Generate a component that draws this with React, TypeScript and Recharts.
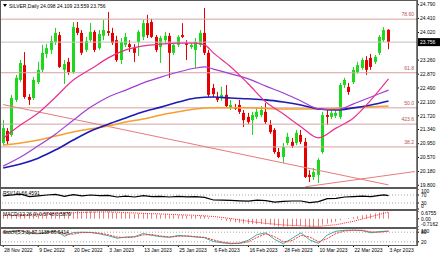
import React from "react";
import { Bar, ComposedChart, Line, ReferenceLine, XAxis, YAxis } from "recharts";

const FONT = "'Liberation Sans', Arial, sans-serif";
const UP = "#1ed81e";
const DOWN = "#e60000";

const dateIdx = [0, 8, 16, 24, 32, 40, 48, 56, 64, 72, 80, 88];
const dateLabels = [
	"28 Nov 2022", "9 Dec 2022", "20 Dec 2022", "3 Jan 2023", "13 Jan 2023", "25 Jan 2023",
	"6 Feb 2023", "16 Feb 2023", "28 Feb 2023", "10 Mar 2023", "22 Mar 2023", "3 Apr 2023",
];

const opens = [
	20.97, 21.3, 21.19, 22.16, 22.71, 23.12, 22.24, 22.21, 22.65, 22.99,
	23.43, 23.54, 23.76, 23.95, 22.99, 23.21, 22.93, 24.15, 24.01, 23.54,
	23.81, 24.04, 23.59, 23.93, 24.06, 24.01, 23.81, 23.26, 23.68, 23.7,
	23.59, 23.76, 23.9, 24.28, 24.31, 23.9, 23.62, 23.81, 23.93, 23.46,
	23.68, 23.95, 23.73, 23.62, 23.54, 23.68, 24.01, 23.46, 22.49, 22.24,
	22.21, 22.3, 21.94, 21.96, 22.02, 21.8, 21.69, 21.6, 21.69, 21.74,
	21.83, 21.47, 21.33, 20.72, 20.58, 20.97, 21.0, 20.97, 21.19, 21.0,
	20.09, 20.03, 20.09, 20.72, 21.74, 21.69, 21.72, 21.69, 22.57, 22.52,
	22.65, 22.93, 23.04, 23.26, 23.32, 23.21, 23.46, 23.81, 24.098,
];
const highs = [
	21.6, 21.38, 22.3, 22.85, 23.26, 23.48, 22.32, 22.79, 23.21, 23.68,
	23.7, 23.93, 24.15, 24.04, 23.26, 23.32, 24.31, 24.31, 24.09, 23.9,
	24.28, 24.09, 24.09, 24.37, 24.59, 24.15, 23.93, 23.87, 24.01, 23.81,
	23.7, 24.09, 24.37, 24.51, 24.4, 23.95, 23.93, 24.04, 24.01, 23.7,
	23.95, 24.28, 23.81, 23.73, 23.87, 24.09, 24.7, 23.54, 22.6, 22.38,
	22.52, 22.57, 22.16, 22.05, 22.16, 21.88, 21.8, 21.83, 21.94, 21.99,
	22.07, 21.6, 21.38, 20.83, 20.97, 21.25, 21.11, 21.33, 21.33, 21.11,
	20.22, 20.28, 20.55, 21.83, 21.94, 21.94, 21.88, 22.63, 22.77, 22.63,
	23.07, 23.21, 23.32, 23.37, 23.43, 23.4, 23.95, 24.17, 24.109,
];
const lows = [
	20.89, 20.91, 21.14, 22.1, 22.65, 22.19, 22.02, 22.16, 22.6, 22.93,
	23.32, 23.43, 23.68, 23.04, 22.6, 22.85, 22.88, 23.95, 23.4, 23.48,
	23.76, 23.48, 23.54, 23.81, 23.93, 23.68, 23.21, 23.15, 23.62, 23.48,
	23.21, 23.37, 23.81, 23.87, 23.87, 23.48, 23.18, 23.7, 22.77, 23.4,
	23.62, 23.87, 23.26, 23.57, 23.04, 23.62, 23.4, 22.24, 22.24, 22.1,
	22.13, 21.94, 21.88, 21.88, 21.77, 21.41, 21.49, 21.19, 21.63, 21.69,
	21.49, 21.22, 20.67, 20.55, 20.42, 20.91, 20.83, 20.91, 20.94, 20.0,
	19.89, 19.95, 19.86, 20.67, 21.47, 21.63, 21.66, 21.63, 22.49, 22.3,
	22.6, 22.88, 22.99, 22.85, 22.99, 23.15, 23.4, 23.76, 23.559,
];
const closes = [
	21.38, 21.02, 22.21, 22.77, 23.18, 22.24, 22.16, 22.71, 22.99, 23.46,
	23.59, 23.79, 24.01, 23.07, 23.15, 22.93, 24.17, 24.01, 23.46, 23.79,
	24.04, 23.54, 23.98, 24.09, 24.01, 23.73, 23.26, 23.76, 23.9, 23.62,
	23.46, 24.04, 24.28, 23.95, 23.9, 23.54, 23.87, 23.93, 23.46, 23.68,
	23.9, 23.9, 23.68, 23.68, 23.76, 24.01, 23.46, 22.3, 22.32, 22.16,
	22.3, 21.99, 22.02, 21.91, 21.83, 21.6, 21.55, 21.74, 21.83, 21.88,
	21.55, 21.27, 20.72, 20.58, 20.86, 21.14, 20.89, 21.25, 21.0, 20.03,
	20.03, 20.17, 20.5, 21.74, 21.69, 21.8, 21.8, 22.57, 22.71, 22.38,
	22.99, 23.12, 23.26, 22.99, 23.07, 23.35, 23.9, 24.09, 23.756,
];

// moving averages: [bar index, price]
const maFast: [number, number][] = [
	[0, 21.1], [4, 21.47], [8, 21.8], [12, 22.24], [16, 22.71], [20, 23.01], [24, 23.32],
	[28, 23.54], [32, 23.65], [36, 23.7], [40, 23.73], [44, 23.73], [46, 23.68], [48, 23.46],
	[52, 23.07], [56, 22.6], [60, 22.1], [64, 21.77], [68, 21.42], [72, 21.11], [76, 21.38],
	[80, 21.66], [84, 22.16], [88, 22.74],
];
const maMid: [number, number][] = [
	[0, 20.33], [4, 20.58], [8, 20.89], [12, 21.22], [16, 21.6], [20, 21.96], [24, 22.24],
	[28, 22.43], [32, 22.63], [36, 22.79], [40, 22.93], [44, 23.04], [46, 23.07], [48, 23.01],
	[52, 22.88], [56, 22.74], [60, 22.54], [64, 22.35], [68, 22.13], [72, 21.91], [76, 21.88],
	[80, 22.05], [84, 22.24], [88, 22.43],
];
const maSlow: [number, number][] = [
	[0, 20.28], [4, 20.39], [8, 20.55], [12, 20.78], [16, 21.05], [20, 21.3], [24, 21.49],
	[28, 21.66], [32, 21.83], [36, 21.96], [40, 22.1], [44, 22.21], [48, 22.24], [52, 22.21],
	[56, 22.19], [60, 22.16], [64, 22.1], [68, 22.02], [72, 21.91], [76, 21.88], [80, 21.94],
	[84, 22.02], [88, 22.13],
];
const maLong: [number, number][] = [
	[0, 20.91], [4, 20.97], [8, 21.05], [12, 21.16], [16, 21.27], [20, 21.36], [24, 21.44],
	[28, 21.55], [32, 21.63], [36, 21.74], [40, 21.83], [44, 21.91], [48, 21.94], [56, 21.94],
	[64, 21.91], [72, 21.91], [80, 21.94], [88, 21.99],
];
const trendDown: [number, number][] = [[0, 22.03], [88, 19.81]];
const trendUp: [number, number][] = [[69, 19.76], [94, 20.18]];

const fibLabels = ["78.60", "61.8", "50.0", "423.6", "38.2"];
const fibValues = [24.39, 22.91, 21.94, 21.49, 20.86];

const priceTicks = [24.79, 24.41, 24.02, 23.26, 22.87, 22.49, 22.1, 21.72, 21.34, 20.95, 20.57, 20.18, 19.8];

const rsiPts: [number, number][] = [
	[0, 66], [2, 70], [4, 74], [6, 62], [8, 66], [10, 70], [12, 73], [14, 63], [16, 72], [18, 66],
	[20, 70], [22, 67], [24, 68], [26, 60], [28, 64], [30, 60], [32, 67], [34, 62], [36, 63], [38, 60],
	[40, 63], [42, 61], [44, 62], [46, 58], [48, 45], [50, 44], [52, 43], [54, 41], [56, 39], [58, 44],
	[60, 42], [62, 34], [64, 38], [66, 40], [68, 40], [70, 32], [72, 37], [74, 52], [76, 53], [78, 60],
	[80, 62], [82, 64], [84, 62], [86, 68], [87, 71], [88, 66.46],
];
const rsiTicks = [100, 70, 30, 0];

const macdMain = [
	0.3, 0.31, 0.34, 0.38, 0.43, 0.42, 0.4, 0.41, 0.43, 0.47,
	0.5, 0.53, 0.58, 0.55, 0.52, 0.5, 0.6, 0.6755, 0.63, 0.62,
	0.64, 0.6, 0.6, 0.62, 0.61, 0.57, 0.5, 0.49, 0.49, 0.46,
	0.42, 0.44, 0.48, 0.45, 0.42, 0.37, 0.37, 0.37, 0.32, 0.31,
	0.31, 0.31, 0.28, 0.26, 0.25, 0.27, 0.24, 0.12, 0.02, -0.06,
	-0.12, -0.2, -0.25, -0.3, -0.35, -0.41, -0.45, -0.47, -0.47, -0.47,
	-0.49, -0.53, -0.62, -0.68, -0.7, -0.67, -0.66, -0.62, -0.61, -0.68,
	-0.7162, -0.7, -0.66, -0.52, -0.42, -0.33, -0.26, -0.12, -0.01, 0.06,
	0.14, 0.22, 0.3, 0.36, 0.42, 0.48, 0.56, 0.62, 0.5748,
];
const macdSignal: [number, number][] = [
	[0, 0.28], [4, 0.34], [8, 0.39], [12, 0.47], [16, 0.52], [20, 0.58], [24, 0.6], [28, 0.54],
	[32, 0.47], [36, 0.42], [40, 0.35], [44, 0.3], [48, 0.2], [52, 0.02], [56, -0.22], [60, -0.4],
	[64, -0.54], [68, -0.62], [72, -0.66], [76, -0.52], [80, -0.22], [84, 0.18], [88, 0.5879],
];
const macdTicks = [0.6755, 0, -0.7162];

const stochK: [number, number][] = [
	[0, 82], [2, 88], [4, 90], [6, 72], [8, 70], [10, 82], [12, 88], [14, 55], [16, 78], [18, 80],
	[20, 78], [22, 70], [24, 58], [26, 42], [28, 50], [30, 52], [32, 72], [34, 60], [36, 52], [38, 48],
	[40, 60], [42, 55], [44, 50], [46, 45], [48, 22], [50, 14], [52, 8], [54, 12], [56, 30], [58, 65],
	[60, 76], [62, 35], [64, 8], [66, 42], [68, 76], [70, 32], [72, 10], [74, 62], [76, 86], [78, 92],
	[80, 93], [82, 90], [84, 76], [86, 84], [88, 87.11],
];
const stochD: [number, number][] = [
	[0, 78], [2, 84], [4, 88], [6, 80], [8, 72], [10, 76], [12, 85], [14, 68], [16, 68], [18, 78],
	[20, 79], [22, 74], [24, 64], [26, 50], [28, 46], [30, 50], [32, 63], [34, 65], [36, 56], [38, 50],
	[40, 54], [42, 57], [44, 52], [46, 48], [48, 32], [50, 18], [52, 11], [54, 10], [56, 20], [58, 48],
	[60, 70], [62, 52], [64, 20], [66, 28], [68, 60], [70, 50], [72, 20], [74, 40], [76, 72], [78, 88],
	[80, 92], [82, 92], [84, 82], [86, 80], [88, 86.54],
];
const stochTicks = [100, 80, 20];

const SLOTS = 95; // 89 bars + empty shift on the right
const BARS = closes.length;

const at = (pts: [number, number][]) => {
	const m = new Map(pts);
	return (i: number) => (m.has(i) ? (m.get(i) as number) : null);
};
const fastAt = at(maFast);
const midAt = at(maMid);
const slowAt = at(maSlow);
const longAt = at(maLong);
const tdAt = at(trendDown);
const tuAt = at(trendUp);
const rsiAt = at(rsiPts);
const sigAt = at(macdSignal);
const kAt = at(stochK);
const dAt = at(stochD);
const dateAt = new Map(dateIdx.map((d, k) => [d, dateLabels[k]]));

const rows = Array.from({ length: SLOTS }, (_, i) => ({
	i,
	o: opens[i],
	h: highs[i],
	l: lows[i],
	c: closes[i],
	range: i < BARS ? [lows[i], highs[i]] : null,
	fast: fastAt(i),
	mid: midAt(i),
	slow: slowAt(i),
	long: longAt(i),
	td: tdAt(i),
	tu: tuAt(i),
	rsi: rsiAt(i),
	macd: i < BARS ? macdMain[i] : null,
	sig: sigAt(i),
	k: kAt(i),
	d: dAt(i),
}));

const tickStyle = { fontSize: 5, fill: "#000", fontFamily: FONT };

function Candle(props: any) {
	const { x, y, width, height, payload } = props;
	if (!payload || payload.o == null || y == null || isNaN(y)) return <g />;
	const top = Math.min(y, y + height);
	const span = Math.abs(height);
	const { o, h, l, c } = payload;
	const k = h > l ? span / (h - l) : 0;
	const yo = top + (h - o) * k;
	const yc = top + (h - c) * k;
	const col = c >= o ? UP : DOWN;
	const cx = Math.floor(x + width / 2) + 0.5;
	return (
		<g>
			<line x1={cx} x2={cx} y1={top} y2={top + span} stroke={col} strokeWidth={1} />
			<rect x={cx - 1.5} y={Math.min(yo, yc)} width={3} height={Math.max(Math.abs(yc - yo), 1)} fill={col} />
		</g>
	);
}

function Stick(props: any) {
	const { x, y, width, height } = props;
	if (y == null || isNaN(y) || height == null) return <g />;
	const cx = Math.floor(x + width / 2) + 0.5;
	return <line x1={cx} x2={cx} y1={y} y2={y + height} stroke='#e88080' strokeWidth={1} />;
}

function DateTick(props: any) {
	const { x, y, payload } = props;
	const lab = dateAt.get(payload.value);
	if (!lab) return <g />;
	return (
		<g>
			<line x1={x} x2={x} y1={y} y2={y + 2} stroke='#000' />
			<text x={x + 1} y={y + 6.5} fontSize={5} fontFamily={FONT} fill='#000' textAnchor='start'>
				{lab}
			</text>
		</g>
	);
}

// axis label kept inside its small window, as the terminal does
const clampTick = (lo: number, hi: number, fmt: (v: number) => string) => (props: any) => {
	const { x, y, payload } = props;
	const yy = Math.min(Math.max(y, lo), hi);
	return (
		<text x={x + 1} y={yy} dy='0.35em' fontSize={5} fontFamily={FONT} fill='#000' textAnchor='start'>
			{fmt(payload.value)}
		</text>
	);
};

function PriceBox(props: any) {
	const vb = props.viewBox;
	if (!vb) return null;
	const x = vb.x + vb.width;
	return (
		<g>
			<rect x={x} y={vb.y - 4} width={23} height={8} fill='#000' />
			<text x={x + 3} y={vb.y + 2} fontSize={5} fontFamily={FONT} fill='#fff'>
				{closes[BARS - 1].toFixed(3)}
			</text>
		</g>
	);
}

const panel = (top: number, height: number): React.CSSProperties => ({
	position: "absolute",
	left: 0,
	top,
	width: 440,
	height,
});

const yAxisCommon = {
	orientation: "right" as const,
	width: 23,
	tickSize: 2,
	tickMargin: 1,
	interval: 0 as const,
	axisLine: { stroke: "#000" },
	tickLine: { stroke: "#000" },
	allowDataOverflow: true,
};

export default function App() {
	return (
		<div style={{ position: "absolute", left: 0, top: 0, width: 440, height: 254, background: "#fff", overflow: "hidden" }}>
			{/* price window */}
			<div style={panel(0, 188)}>
				<ComposedChart width={440} height={188} data={rows} margin={{ top: 1, right: 0, bottom: 1, left: 1 }} barCategoryGap={0}>
					<XAxis dataKey='i' hide scale='band' />
					<YAxis
						{...yAxisCommon}
						tick={tickStyle}
						domain={[19.753, 24.892]}
						ticks={priceTicks}
						tickFormatter={(v: number) => v.toFixed(3)}
					/>
					{fibValues.map((v, k) => (
						<ReferenceLine
							key={fibLabels[k]}
							y={v}
							stroke='#d6a0a0'
							strokeWidth={1}
							label={{ value: fibLabels[k], position: "insideBottomRight", offset: 3, fontSize: 5, fill: "#b05050", fontFamily: FONT }}
						/>
					))}
					<ReferenceLine y={closes[BARS - 1]} stroke='#c0c0c0' label={<PriceBox />} />
					<Line dataKey='td' stroke='#e87a7a' strokeWidth={1} dot={false} connectNulls isAnimationActive={false} />
					<Line dataKey='tu' stroke='#e87a7a' strokeWidth={1} dot={false} connectNulls isAnimationActive={false} />
					<Bar dataKey='range' shape={(p: any) => <Candle {...p} />} isAnimationActive={false} />
					<Line type='monotone' dataKey='long' stroke='#f5a030' strokeWidth={1.5} dot={false} connectNulls isAnimationActive={false} />
					<Line type='monotone' dataKey='slow' stroke='#1c1cb4' strokeWidth={1.6} dot={false} connectNulls isAnimationActive={false} />
					<Line type='monotone' dataKey='mid' stroke='#a23ed4' strokeWidth={1.2} dot={false} connectNulls isAnimationActive={false} />
					<Line type='monotone' dataKey='fast' stroke='#ea3090' strokeWidth={1.2} dot={false} connectNulls isAnimationActive={false} />
				</ComposedChart>
			</div>

			{/* RSI */}
			<div style={panel(189, 21)}>
				<ComposedChart width={440} height={21} data={rows} margin={{ top: 0, right: 0, bottom: 1, left: 1 }}>
					<XAxis dataKey='i' hide scale='band' />
					<YAxis {...yAxisCommon} domain={[0, 100]} ticks={rsiTicks} tick={clampTick(2.5, 17.5, (v) => String(v))} />
					<ReferenceLine y={70} stroke='#a8a8a8' strokeDasharray='1 2' />
					<ReferenceLine y={30} stroke='#a8a8a8' strokeDasharray='1 2' />
					<Line dataKey='rsi' stroke='#000' strokeWidth={1.2} dot={false} connectNulls isAnimationActive={false} />
				</ComposedChart>
			</div>

			{/* MACD */}
			<div style={panel(211, 16)}>
				<ComposedChart width={440} height={16} data={rows} margin={{ top: 0, right: 0, bottom: 0, left: 1 }} barCategoryGap={0}>
					<XAxis dataKey='i' hide scale='band' />
					<YAxis
						{...yAxisCommon}
						domain={[-0.7162, 0.6755]}
						ticks={macdTicks}
						tick={clampTick(2, 13.5, (v) => (v === 0 ? "0.00" : v.toFixed(4)))}
					/>
					<Bar dataKey='macd' shape={(p: any) => <Stick {...p} />} isAnimationActive={false} />
					<Line dataKey='sig' stroke='#ff2020' strokeWidth={1} strokeDasharray='1 1' dot={false} connectNulls isAnimationActive={false} />
				</ComposedChart>
			</div>

			{/* Stochastic */}
			<div style={panel(229, 25)}>
				<ComposedChart width={440} height={25} data={rows} margin={{ top: 0, right: 0, bottom: 0, left: 1 }}>
					<XAxis
						dataKey='i'
						scale='band'
						height={9}
						interval={0}
						tickLine={false}
						axisLine={false}
						tickSize={0}
						tickMargin={0}
						tick={(p: any) => <DateTick {...p} />}
					/>
					<YAxis {...yAxisCommon} domain={[0, 100]} ticks={stochTicks} tick={clampTick(2.5, 13.5, (v) => String(v))} />
					<ReferenceLine y={80} stroke='#a8a8a8' strokeDasharray='1 2' />
					<ReferenceLine y={20} stroke='#a8a8a8' strokeDasharray='1 2' />
					<Line dataKey='k' stroke='#3aaea0' strokeWidth={1} dot={false} connectNulls isAnimationActive={false} />
					<Line dataKey='d' stroke='#ff3030' strokeWidth={1} strokeDasharray='2 1' dot={false} connectNulls isAnimationActive={false} />
				</ComposedChart>
			</div>

			{/* window frames and captions */}
			<svg width={440} height={254} style={{ position: "absolute", left: 0, top: 0 }}>
				<g fill='none' stroke='#5a5a5a' strokeWidth={1}>
					<rect x={0.5} y={0.5} width={417} height={187} />
					<rect x={0.5} y={188.5} width={417} height={21} />
					<rect x={0.5} y={210.5} width={417} height={17} />
					<rect x={0.5} y={228.5} width={417} height={17} />
				</g>
				<g fontFamily={FONT} fontSize={5} fill='#000'>
					<polygon points='3,4 7,4 5,7' fill='#000' />
					<text x={9} y={7.5}>SILVER,Daily  24.098 24.109 23.559 23.756</text>
					<text x={3} y={194.5}>RSI(14) 66.4591</text>
					<text x={3} y={216}>MACD(12,26,9) 0.5748 0.5879</text>
					<text x={3} y={234}>Stoch(5,3,3) 87.1138 86.5414</text>
				</g>
			</svg>
		</div>
	);
}
